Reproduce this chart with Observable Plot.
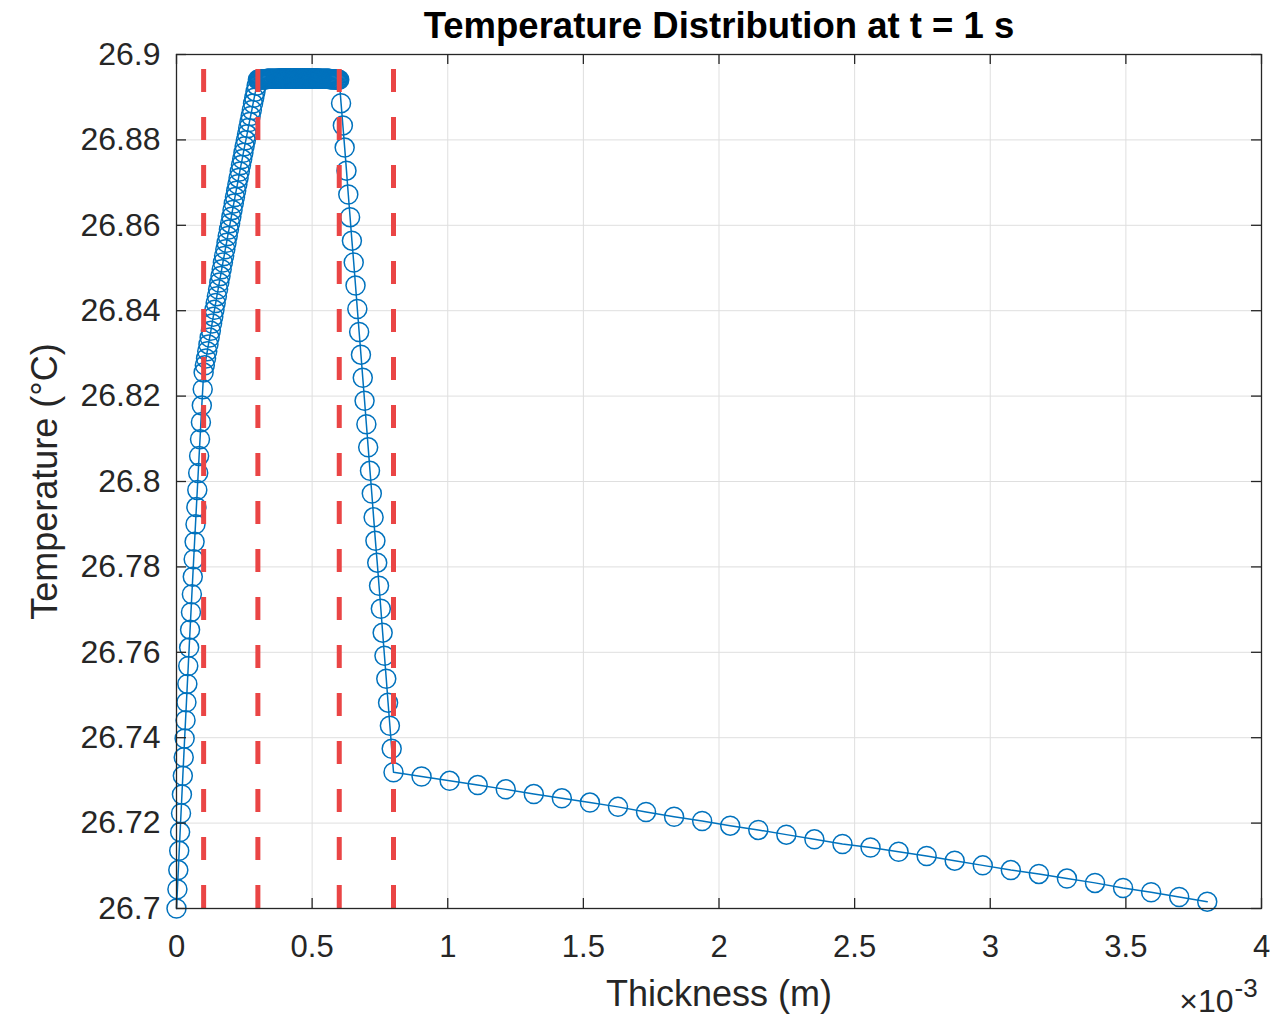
<!DOCTYPE html>
<html>
<head>
<meta charset="utf-8">
<script src="https://cdn.jsdelivr.net/npm/d3@7"></script>
<script src="https://cdn.jsdelivr.net/npm/@observablehq/plot@0.6"></script>
<style>
  html, body { margin: 0; padding: 0; background: #fff; }
  #chart { width: 1276px; height: 1017px; }
</style>
</head>
<body>
<div id="chart"></div>
<script>
// ---- data ----
const titleText = "Temperature Distribution at t = 1 s";
const xLabel = "Thickness (m)";
const yLabel = "Temperature (°C)";

// layer boundaries (m)
const layerBounds = [0, 0.1e-3, 0.3e-3, 0.6e-3, 0.8e-3, 3.8e-3];
const interfaces = [0.1e-3, 0.3e-3, 0.6e-3, 0.8e-3];

const layer1T = [26.7000, 26.7045, 26.7090, 26.7135, 26.7179, 26.7223, 26.7267, 26.7311, 26.7354, 26.7398, 26.7441, 26.7483, 26.7526, 26.7568, 26.7611, 26.7653, 26.7694, 26.7736, 26.7777, 26.7818, 26.7859, 26.7900, 26.7940, 26.7980, 26.8020, 26.8060, 26.8099, 26.8139, 26.8178, 26.8216, 26.8255];
const layer2T = [26.8255, 26.8272, 26.8288, 26.8305, 26.8321, 26.8337, 26.8353, 26.8370, 26.8386, 26.8402, 26.8418, 26.8434, 26.8450, 26.8466, 26.8481, 26.8497, 26.8513, 26.8528, 26.8544, 26.8559, 26.8575, 26.8590, 26.8605, 26.8620, 26.8636, 26.8651, 26.8666, 26.8681, 26.8696, 26.8711, 26.8726, 26.8741, 26.8755, 26.8770, 26.8785, 26.8799, 26.8813, 26.8828, 26.8842, 26.8856, 26.8870, 26.8885, 26.8899, 26.8913, 26.8927, 26.8941];
const layer3T = [26.8941, 26.8941, 26.8941, 26.8942, 26.8942, 26.8942, 26.8942, 26.8942, 26.8942, 26.8942, 26.8943, 26.8943, 26.8943, 26.8943, 26.8943, 26.8943, 26.8943, 26.8943, 26.8943, 26.8943, 26.8943, 26.8943, 26.8943, 26.8944, 26.8944, 26.8944, 26.8944, 26.8944, 26.8944, 26.8944, 26.8944, 26.8944, 26.8944, 26.8944, 26.8944, 26.8944, 26.8944, 26.8944, 26.8944, 26.8944, 26.8944, 26.8944, 26.8944, 26.8944, 26.8944, 26.8944, 26.8944, 26.8944, 26.8944, 26.8944, 26.8944, 26.8944, 26.8944, 26.8944, 26.8944, 26.8944, 26.8944, 26.8944, 26.8944, 26.8944, 26.8944, 26.8944, 26.8944, 26.8944, 26.8944, 26.8944, 26.8944, 26.8944, 26.8943, 26.8943, 26.8943, 26.8943, 26.8943, 26.8943, 26.8943, 26.8943, 26.8943, 26.8943, 26.8943, 26.8943, 26.8942, 26.8942, 26.8942, 26.8942, 26.8942, 26.8942, 26.8942, 26.8941, 26.8941, 26.8941, 26.8941];
const layer4T = [26.8941, 26.8886, 26.8834, 26.8782, 26.8728, 26.8672, 26.8619, 26.8564, 26.8513, 26.8459, 26.8404, 26.8350, 26.8297, 26.8243, 26.8189, 26.8134, 26.8080, 26.8025, 26.7972, 26.7916, 26.7861, 26.7810, 26.7756, 26.7702, 26.7646, 26.7592, 26.7538, 26.7482, 26.7428, 26.7374, 26.7319];
const layer5T = [26.7319, 26.7309, 26.7299, 26.7289, 26.7279, 26.7268, 26.7258, 26.7248, 26.7238, 26.7226, 26.7215, 26.7205, 26.7194, 26.7184, 26.7173, 26.7162, 26.7151, 26.7143, 26.7133, 26.7123, 26.7112, 26.7101, 26.7090, 26.7081, 26.7070, 26.7060, 26.7048, 26.7038, 26.7027, 26.7016];

const xTicks = [0, 0.5e-3, 1e-3, 1.5e-3, 2e-3, 2.5e-3, 3e-3, 3.5e-3, 4e-3];
const xTickLabels = ["0", "0.5", "1", "1.5", "2", "2.5", "3", "3.5", "4"];
const yTicks = [26.7, 26.72, 26.74, 26.76, 26.78, 26.8, 26.82, 26.84, 26.86, 26.88, 26.9];
const yTickLabels = ["26.7", "26.72", "26.74", "26.76", "26.78", "26.8", "26.82", "26.84", "26.86", "26.88", "26.9"];

// ---- build node table (uniform mesh inside each layer) ----
const layers = [layer1T, layer2T, layer3T, layer4T, layer5T];
const points = [];
layers.forEach((T, k) => {
  const a = layerBounds[k], b = layerBounds[k + 1], n = T.length;
  T.forEach((t, i) => {
    if (k > 0 && i === 0) return; // shared interface node
    points.push({x: a + (b - a) * i / (n - 1), T: t});
  });
});

// ---- layout ----
const W = 1276, H = 1017;
const mL = 176, mR = 15, mT = 54, mB = 109;
const fw = W - mL - mR, fh = H - mT - mB;
const tickLen = 10;
const ink = "#262626";
const font = "'Liberation Sans', Arial, Helvetica, sans-serif";

const chart = Plot.plot({
  width: W, height: H,
  marginLeft: mL, marginRight: mR, marginTop: mT, marginBottom: mB,
  style: {fontFamily: font, background: "#fff", overflow: "visible"},
  x: {type: "linear", domain: [0, 4e-3]},
  y: {type: "linear", domain: [26.7, 26.9]},
  marks: [
    // grid
    Plot.ruleX(xTicks, {stroke: "#dfdfdf", strokeWidth: 1}),
    Plot.ruleY(yTicks, {stroke: "#dfdfdf", strokeWidth: 1}),
    // data
    Plot.line(points, {x: "x", y: "T", stroke: "#0072BD", strokeWidth: 1.5}),
    Plot.dot(points, {x: "x", y: "T", r: 9.5, stroke: "#0072BD", strokeWidth: 1.5, fill: "none"}),
    // interfaces
    Plot.ruleX(interfaces, {y1: 26.7, y2: 26.9, stroke: "#ea4545", strokeWidth: 5, strokeDasharray: "23,25"}),
    // box
    Plot.frame({stroke: ink, strokeWidth: 1.3}),
    // inward ticks
    Plot.ruleX(xTicks, {insetTop: fh - tickLen, stroke: ink, strokeWidth: 1.3}),
    Plot.ruleX(xTicks, {insetBottom: fh - tickLen, stroke: ink, strokeWidth: 1.3}),
    Plot.ruleY(yTicks, {insetRight: fw - tickLen, stroke: ink, strokeWidth: 1.3}),
    Plot.ruleY(yTicks, {insetLeft: fw - tickLen, stroke: ink, strokeWidth: 1.3}),
    // tick labels
    Plot.axisX({anchor: "bottom", ticks: xTicks, tickFormat: (d, i) => xTickLabels[i], tickSize: 0, tickPadding: 26, fontSize: 31, fill: ink, label: null}),
    Plot.axisY({anchor: "left", ticks: yTicks, tickFormat: (d, i) => yTickLabels[i], tickSize: 0, tickPadding: 16, fontSize: 32, fill: ink, label: null}),
    // labels
    Plot.text([xLabel], {frameAnchor: "bottom", dy: 97, lineAnchor: "bottom", fontSize: 36, fill: ink}),
    Plot.text([yLabel], {frameAnchor: "left", dx: -131, rotate: -90, textAnchor: "middle", lineAnchor: "middle", fontSize: 36, fill: ink}),
    Plot.text([titleText], {frameAnchor: "top", dy: -17, lineAnchor: "bottom", fontSize: 36.5, fontWeight: "bold", fill: "#000"}),
    // exponent
    Plot.text(["×10"], {frameAnchor: "bottom-right", dx: -28, dy: 103, textAnchor: "end", lineAnchor: "bottom", fontSize: 32, fill: ink}),
    Plot.text(["-3"], {frameAnchor: "bottom-right", dx: -27, dy: 88, textAnchor: "start", lineAnchor: "bottom", fontSize: 26, fill: ink})
  ]
});
document.getElementById("chart").appendChild(chart);
</script>
</body>
</html>
